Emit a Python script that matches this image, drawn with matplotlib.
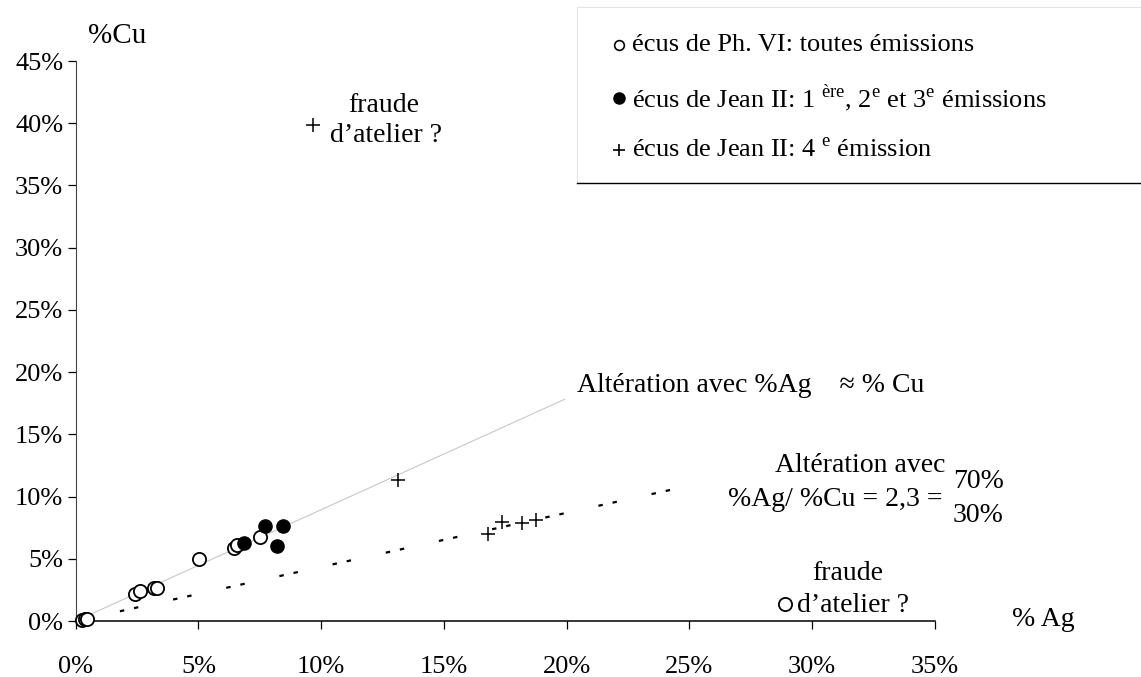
import matplotlib
matplotlib.use("Agg")
import matplotlib.pyplot as plt
from matplotlib.lines import Line2D
from matplotlib.patches import Rectangle

plt.rcParams['font.family'] = ['Liberation Serif', 'DejaVu Serif']
plt.rcParams['mathtext.fontset'] = 'custom'
plt.rcParams['mathtext.rm'] = 'Liberation Serif'

# écus de Philippe VI (open circles)
ph6_ag = [0.24, 0.38, 0.47, 2.41, 2.62, 3.2, 3.3, 5.03, 6.46, 6.55, 7.5, 28.88]
ph6_cu = [0.08, 0.14, 0.16, 2.17, 2.41, 2.68, 2.68, 4.96, 5.84, 6.11, 6.73, 1.34]

# écus de Jean II, 1re-3e émissions (filled)
jean_ag = [6.85, 7.71, 8.43, 8.21]
jean_cu = [6.24, 7.66, 7.66, 6.03]

# écus de Jean II, 4e émission (+)
jean4_ag = [9.68, 13.14, 16.8, 17.35, 18.16, 18.74]
jean4_cu = [39.85, 11.33, 6.99, 7.98, 7.9, 8.12]

# reference lines
eq_ag = [0, 19.92]
eq_cu = [0, 17.82]
ratio = 2.3
ratio_ag = [1.8, 25.3]

xticks = [0, 5, 10, 15, 20, 25, 30, 35]
yticks = [0, 5, 10, 15, 20, 25, 30, 35, 40, 45]

W, H = 1141, 677
fig = plt.figure(figsize=(W / 100, H / 100), dpi=100)
ax = fig.add_axes([75.7 / W, 56 / H, (935 - 75.7) / W, (621 - 61) / H])

ax.plot(eq_ag, eq_cu, color='#c8c8c8', lw=0.8, zorder=1)
ax.plot(ratio_ag, [a / ratio for a in ratio_ag], color='black', lw=1.6,
        dashes=(2.0, 4.5, 2.0, 16), zorder=1)

ax.plot(ph6_ag, ph6_cu, 'o', ms=9.5, mfc='white', mec='black', mew=1.3,
        ls='none', zorder=3, clip_on=False)
ax.plot(jean_ag, jean_cu, 'o', ms=9.5, mfc='black', mec='black',
        ls='none', zorder=3)
ax.plot(jean4_ag, jean4_cu, '+', ms=10, mec='black', mew=1.1,
        ls='none', zorder=3)

ax.set_xlim(0, 35)
ax.set_ylim(0, 45)
ax.set_xticks(xticks)
ax.set_yticks(yticks)
ax.set_xticklabels([f'{t}%' for t in xticks])
ax.set_yticklabels([f'{t}%' for t in yticks])
for s in ['top', 'right']:
    ax.spines[s].set_visible(False)
ax.spines['left'].set_color('#444444')
ax.spines['bottom'].set_linewidth(1.1)
ax.tick_params(axis='both', direction='out', length=6, width=0.9,
               labelsize=19)
ax.tick_params(axis='x', pad=19)
ax.tick_params(axis='y', pad=3)


def px(x, y):
    # figure pixel (from top-left) to figure fraction
    return x / W, 1 - y / H


fs = 20
fig.text(*px(117, 36), '%Cu', fontsize=21, ha='center', va='center')
fig.text(*px(1012, 620), '% Ag', fontsize=fs, ha='left', va='center')

fig.text(*px(384, 106), 'fraude', fontsize=fs, ha='center', va='center')
fig.text(*px(386, 136), 'd\u2019atelier ?', fontsize=fs, ha='center', va='center')

fig.text(*px(577, 386), 'Altération avec %Ag    \u2248 % Cu', fontsize=fs,
         ha='left', va='center')
fig.text(*px(860, 466), 'Altération avec', fontsize=fs, ha='center', va='center')
fig.text(*px(942, 499), '%Ag/ %Cu = 2,3 =', fontsize=fs, ha='right', va='center')
fig.text(*px(953, 481), '70%', fontsize=fs, ha='left', va='center')
fig.text(*px(953, 516), '30%', fontsize=fs, ha='left', va='center')

fig.text(*px(848, 573), 'fraude', fontsize=fs, ha='center', va='center')
fig.text(*px(797, 606), 'd\u2019atelier ?', fontsize=fs, ha='left', va='center')

# legend box
fig.add_artist(Rectangle(px(577, 183), (W - 577) / W, (183 - 7) / H,
                         transform=fig.transFigure, fc='none',
                         ec='#e4e4e4', lw=0.8, zorder=10))
fig.add_artist(Line2D([577 / W, 1], [1 - 183 / H] * 2, color='black',
                      lw=1.0, transform=fig.transFigure, zorder=11))

rows = [45, 98, 150]
mk = [dict(marker='o', ms=7, mfc='white', mec='black', mew=1.2),
      dict(marker='o', ms=8, mfc='black', mec='black'),
      dict(marker='+', ms=8, mec='black', mew=1.2)]
labels = ['écus de Ph. VI: toutes émissions',
          r'écus de Jean II: 1 $^{\mathrm{ère}}$, 2$^{\mathrm{e}}$ et 3$^{\mathrm{e}}$ émissions',
          r'écus de Jean II: 4 $^{\mathrm{e}}$ émission']
for y, m, lab in zip(rows, mk, labels):
    fig.add_artist(Line2D([619 / W], [1 - y / H], ls='none',
                          transform=fig.transFigure, **m))
    fig.text(*px(632, y), lab, fontsize=19, ha='left', va='center')

fig.savefig('out.png', dpi=100)
